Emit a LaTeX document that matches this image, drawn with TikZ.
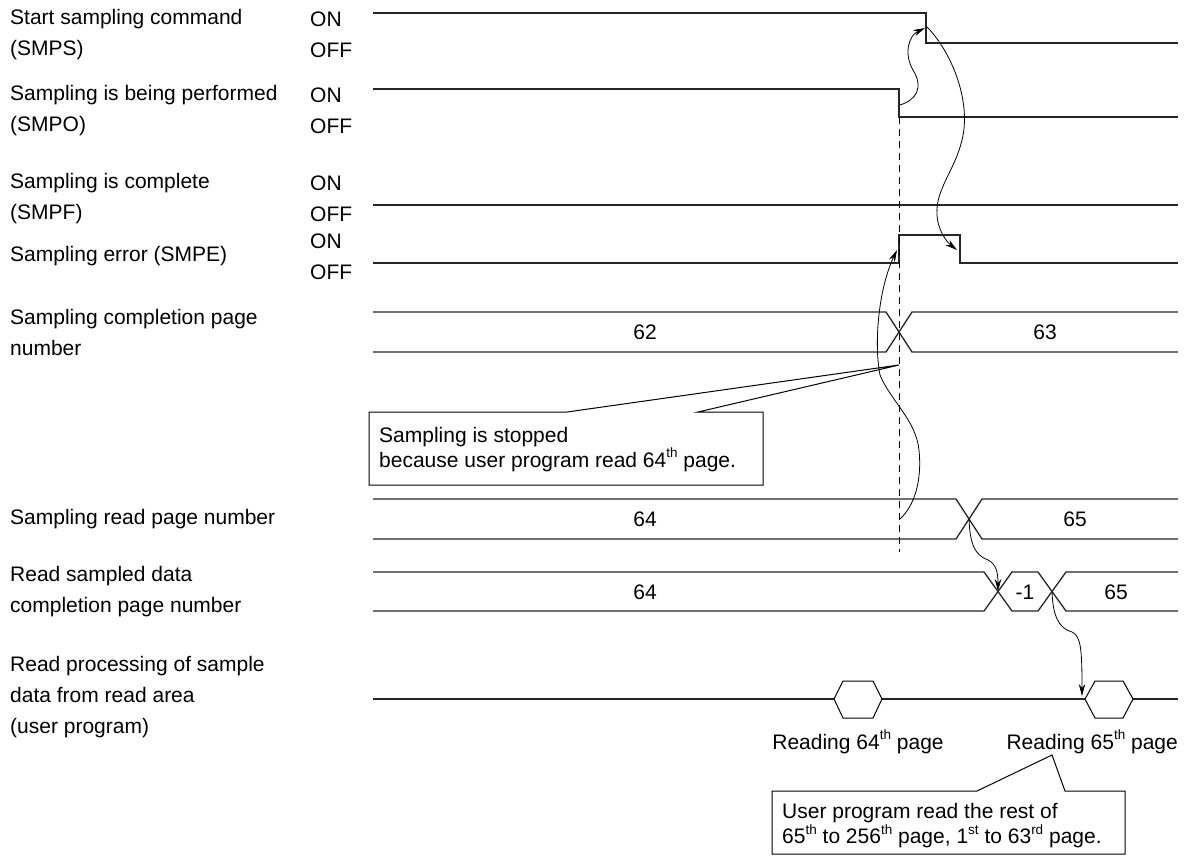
\documentclass[tikz,border=0pt]{standalone}
\usepackage{fontspec}
\setmainfont{Liberation Sans}
\usetikzlibrary{arrows.meta}
\newcommand{\supx}[1]{\raisebox{0.46em}{\fontsize{13.5}{13.5}\selectfont #1}}
\begin{document}
\begin{tikzpicture}[x=1pt,y=-1pt,
  sig/.style={line width=1.4pt, black!85, line join=miter},
  bus/.style={line width=1.3pt, black!85},
  conn/.style={line width=0.8pt, -{Stealth[length=12pt,width=6.5pt]}},
  dsh/.style={line width=0.9pt, dash pattern=on 7pt off 5pt},
  lbl/.style={inner sep=0pt, anchor=west, align=left, font=\fontsize{21}{31}\selectfont},
  onoff/.style={inner sep=0pt, anchor=west, font=\fontsize{21}{25}\selectfont},
  num/.style={inner sep=0pt, font=\fontsize{21}{25}\selectfont},
  callout/.style={line width=1pt, fill=white},
  ctext/.style={inner sep=0pt, anchor=west, align=left, font=\fontsize{21}{25}\selectfont},
  hex/.style={line width=1pt, fill=white}]
\useasboundingbox (0,0) rectangle (1190,856);
\fill[white] (0,0) rectangle (1190,856);

% ---------- left labels ----------
\node[lbl] (l1) at (10,34.5) {Start sampling command\\(SMPS)};
\node[lbl] (l2) at (10,110.5) {Sampling is being performed\\(SMPO)};
\node[lbl] (l3) at (10,198.5) {Sampling is complete\\(SMPF)};
\node[lbl] (l4) at (10,256) {Sampling error (SMPE)};
\node[lbl] (l5) at (10,332) {Sampling completion page\\number};
\node[lbl] (l6) at (10,519) {Sampling read page number};
\node[lbl] (l7) at (10,592) {Read sampled data\\completion page number};
\node[lbl] (l8) at (10,697) {Read processing of sample\\data from read area\\(user program)};

\node[onoff] (on1) at (310,19) {ON};
\node[onoff] (off1) at (310,50) {OFF};
\node[onoff] (on2) at (310,95) {ON};
\node[onoff] (off2) at (310,126) {OFF};
\node[onoff] (on3) at (310,183) {ON};
\node[onoff] (off3) at (310,214) {OFF};
\node[onoff] (on4) at (310,241) {ON};
\node[onoff] (off4) at (310,272) {OFF};

% ---------- bit signals ----------
\coordinate (s1a) at (926,13);
\coordinate (s1b) at (926,43);
\coordinate (s1m) at (925,28);
\draw[sig] (373,13) -- (s1a) -- (s1b) -- (1178,43);
\coordinate (s2a) at (899,89);
\coordinate (s2b) at (899,117);
\coordinate (s2m) at (900,105);
\draw[sig] (373,89) -- (s2a) -- (s2b) -- (1178,117);
\draw[sig] (373,205) -- (1178,205);
\coordinate (s4a) at (899,263);
\coordinate (s4b) at (899,235);
\coordinate (s4c) at (960,235);
\coordinate (s4d) at (960,263);
\coordinate (s4up) at (897,250);
\coordinate (s4dn) at (957,250);
\draw[sig] (373,263) -- (s4a) -- (s4b) -- (s4c) -- (s4d) -- (1178,263);

% dashed guide
\coordinate (dend) at (899,552);
\draw[dsh] (s2b) -- (dend);

% ---------- buses ----------
\draw[bus] (373,312) -- (886,312) -- (912,352) -- (1178,352);
\draw[bus] (373,352) -- (886,352) -- (912,312) -- (1178,312);
\node[num] (n62) at (645,332) {62};
\node[num] (n63) at (1045,332) {63};
\coordinate (x6) at (969,519);
\coordinate (r64) at (900,519);
\draw[bus] (373,499) -- (956,499) -- (982,539) -- (1178,539);
\draw[bus] (373,539) -- (956,539) -- (982,499) -- (1178,499);
\node[num] (n64a) at (645,519) {64};
\node[num] (n65a) at (1075,519) {65};
\coordinate (x7a) at (998,591);
\coordinate (x7b) at (1052,592);
\draw[bus] (373,572) -- (984,572) -- (1012,611) -- (1038,611) -- (1066,572) -- (1178,572);
\draw[bus] (373,611) -- (984,611) -- (1012,572) -- (1038,572) -- (1066,611) -- (1178,611);
\node[num] (n64b) at (645,592) {64};
\node[num] (nm1) at (1025,592) {-1};
\node[num] (n65b) at (1116,592) {65};

% ---------- user program row ----------
\draw[sig] (373,699) -- (834,699);
\draw[sig] (882,699) -- (1085,699);
\draw[sig] (1133,699) -- (1178,699);
\draw[hex] (834,699) -- (843,681) -- (873,681) -- (882,699) -- (873,718) -- (843,718) -- cycle;
\draw[hex] (1085,699) -- (1095,681) -- (1123,681) -- (1133,699) -- (1123,718) -- (1095,718) -- cycle;
\coordinate (h2) at (1082,696);
\node[num] (rd64) at (858,742) {Reading 64\supx{th} page};
\node[num, anchor=east] (rd65) at (1178,742) {Reading 65\supx{th} page};

% ---------- callout 1 ----------
\coordinate (c1tip) at (899,365);
\draw[callout] (369,412) -- (567,412) -- (c1tip) -- (698,412) -- (763,412) -- (763,485) -- (369,485) -- cycle;
\node[ctext] (c1) at (379,449.5) {Sampling is stopped\\because user program read 64\supx{th} page.};

% ---------- callout 2 ----------
\coordinate (c2tip) at (1052,755);
\draw[callout] (772,791) -- (977,791) -- (c2tip) -- (1065,791) -- (1125,791) -- (1125,854) -- (772,854) -- cycle;
\node[ctext] (c2) at (782,826) {User program read the rest of\\65\supx{th} to 256\supx{th} page, 1\supx{st} to 63\supx{rd} page.};

% ---------- connectors ----------
\draw[conn] (s2m) .. controls (916,100) and (924,88) .. (913,70) .. controls (904,55) and (908,36) .. (s1m);
\draw[conn] (927,27) .. controls (950,50) and (972,100) .. (962,140) .. controls (955,170) and (935,190) .. (937,215) .. controls (938,232) and (948,243) .. (s4dn);
\draw[conn] (r64) .. controls (915,505) and (922,480) .. (919,450) .. controls (916,420) and (890,400) .. (880,375) .. controls (874,345) and (878,290) .. (s4up);
\draw[conn] (x6) .. controls (970,545) and (975,555) .. (988,560) .. controls (996,564) and (998,572) .. (x7a);
\draw[conn] (x7b) .. controls (1053,615) and (1058,628) .. (1072,632) .. controls (1081,636) and (1082,650) .. (h2);
\end{tikzpicture}
\end{document}
